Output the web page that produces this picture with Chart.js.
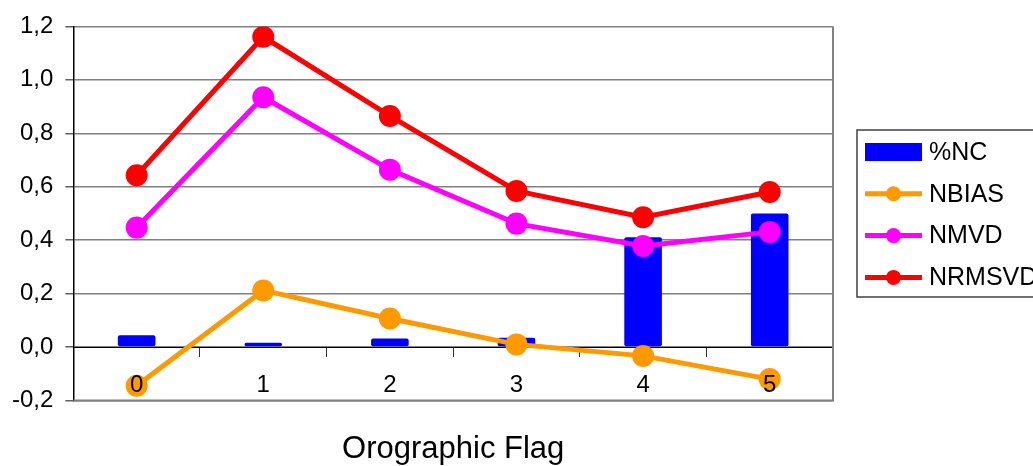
<!DOCTYPE html>
<html>
<head>
<meta charset="utf-8">
<script src="https://cdn.jsdelivr.net/npm/chart.js@4/dist/chart.umd.min.js"></script>
<style>
  html, body { margin: 0; padding: 0; background: #fff; overflow: hidden; }
  #wrap { position: relative; width: 1033px; height: 466px; }
</style>
</head>
<body>
<div id="wrap"><canvas id="grafico"></canvas></div>
<script>
// Datos
const categorias = ['0', '1', '2', '3', '4', '5'];
const pctNC  = [0.044, 0.016, 0.032, 0.035, 0.411, 0.500];
const nbias  = [-0.145, 0.212, 0.107, 0.010, -0.033, -0.120];
const nmvd   = [0.447, 0.935, 0.664, 0.462, 0.378, 0.431];
const nrmsvd = [0.643, 1.161, 0.865, 0.584, 0.486, 0.580];
const yTickValues = [-0.2, 0, 0.2, 0.4, 0.6, 0.8, 1.0, 1.2];
const yTickLabels = ['-0,2', '0,0', '0,2', '0,4', '0,6', '0,8', '1,0', '1,2'];

const FUENTE = '"Liberation Sans", Arial, sans-serif';

// Borde derecho e inferior del area de trazado
const bordePlot = {
    id: 'bordePlot',
    afterDatasetsDraw(chart) {
        const a = chart.chartArea;
        const ctx = chart.ctx;
        ctx.save();
        ctx.strokeStyle = '#808080';
        ctx.lineWidth = 2;
        ctx.beginPath();
        ctx.moveTo(a.right, a.top);
        ctx.lineTo(a.right, a.bottom);
        ctx.lineTo(a.left, a.bottom);
        ctx.stroke();
        ctx.restore();
    }
};

// Leyenda con recuadro (linea + punto para las series de linea)
const leyendaCaja = {
    id: 'leyendaCaja',
    afterDraw(chart) {
        const ctx = chart.ctx;
        const orden = [0, 1, 2, 3];
        ctx.save();
        ctx.strokeStyle = '#404040';
        ctx.lineWidth = 1.5;
        ctx.strokeRect(857, 130, 220, 167);
        ctx.font = '25px ' + FUENTE;
        ctx.textBaseline = 'middle';
        ctx.fillStyle = '#000';
        orden.forEach((idx, i) => {
            const ds = chart.data.datasets[idx];
            const y = 152 + i * 41.8;
            if (ds.type === 'bar') {
                ctx.fillStyle = ds.backgroundColor;
                ctx.fillRect(865, y - 9, 57, 18);
            } else {
                ctx.strokeStyle = ds.borderColor;
                ctx.lineWidth = 5;
                ctx.beginPath();
                ctx.moveTo(865, y);
                ctx.lineTo(922, y);
                ctx.stroke();
                ctx.fillStyle = ds.borderColor;
                ctx.beginPath();
                ctx.arc(893.5, y, 7.5, 0, Math.PI * 2);
                ctx.fill();
            }
            ctx.fillStyle = '#000';
            ctx.fillText(ds.label, 929, y + 1);
        });
        ctx.restore();
    }
};

function serieLinea(label, data, color, orden) {
    return {
        type: 'line',
        label: label,
        data: data,
        borderColor: color,
        backgroundColor: color,
        borderWidth: 5,
        pointRadius: 11,
        pointHoverRadius: 11,
        pointBackgroundColor: color,
        pointBorderWidth: 0,
        tension: 0,
        order: orden
    };
}

const ctx = document.getElementById('grafico').getContext('2d');
new Chart(ctx, {
    data: {
        labels: categorias,
        datasets: [
            {
                type: 'bar',
                label: '%NC',
                data: pctNC,
                backgroundColor: '#0000FF',
                borderRadius: 2,
                borderSkipped: false,
                categoryPercentage: 1,
                barPercentage: 0.297,
                order: 4
            },
            serieLinea('NBIAS', nbias, '#FF9900', 3),
            serieLinea('NMVD', nmvd, '#FF00FF', 2),
            serieLinea('NRMSVD', nrmsvd, '#FF0000', 1)
        ]
    },
    options: {
        responsive: true,
        maintainAspectRatio: false,
        animation: false,
        events: [],
        layout: { padding: { top: 24, left: 0, right: 200, bottom: 0 } },
        scales: {
            x: {
                position: { y: 0 },
                offset: true,
                grid: {
                    display: true,
                    offset: true,
                    drawOnChartArea: false,
                    drawTicks: true,
                    tickLength: 9,
                    tickColor: '#333'
                },
                border: { display: true, color: '#000', width: 1 },
                ticks: {
                    z: 1,
                    color: '#000',
                    padding: 15,
                    maxRotation: 0,
                    font: { family: FUENTE, size: 24 }
                }
            },
            y: {
                min: -0.2,
                max: 1.2,
                afterBuildTicks(scale) {
                    scale.ticks = yTickValues.map(v => ({ value: v }));
                },
                grid: {
                    color: '#808080',
                    lineWidth: 1.5,
                    tickLength: 8,
                    tickColor: '#606060'
                },
                border: { display: true, color: '#000', width: 1.5 },
                ticks: {
                    color: '#000',
                    padding: 12,
                    font: { family: FUENTE, size: 24 },
                    callback: (v, i) => yTickLabels[i]
                }
            }
        },
        plugins: {
            legend: { display: false },
            tooltip: { enabled: false },
            title: {
                display: true,
                text: 'Orographic Flag',
                position: 'bottom',
                fullSize: false,
                color: '#000',
                font: { family: FUENTE, size: 31, weight: 'normal', lineHeight: 1 },
                padding: { top: 33, bottom: 1.5 }
            }
        }
    },
    plugins: [bordePlot, leyendaCaja]
});
</script>
</body>
</html>
